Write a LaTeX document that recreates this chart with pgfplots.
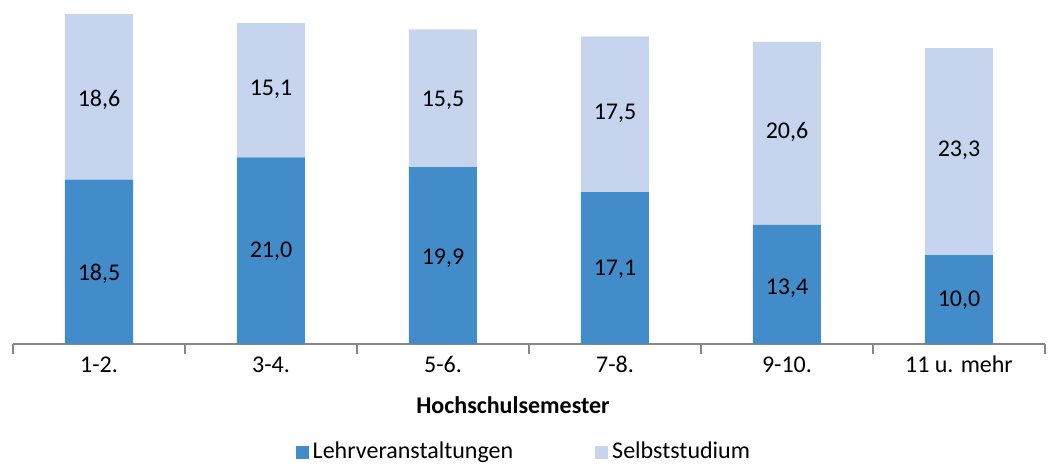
\documentclass[border=0pt]{standalone}
\usepackage{pgfplots}
\pgfplotsset{compat=1.18}
\usepackage{fontspec}
\setmainfont{Carlito}
\definecolor{lehr}{HTML}{438CCA}
\definecolor{selbst}{HTML}{C6D4EE}
\definecolor{axgray}{HTML}{878787}
\begin{document}
\begin{tikzpicture}[font=\fontsize{12}{14}\selectfont]
\pgfplotsset{
  base/.style={
    scale only axis, width=516pt, height=172pt,
    xmin=-0.5, xmax=5.5, ymin=0, ymax=38.7,
  }
}
% bars
\begin{axis}[base,
    ybar stacked, bar width=34pt,
    axis x line*=bottom, axis y line=none,
    x axis line style={axgray, line width=1pt},
    xtick={-0.5,0.5,1.5,2.5,3.5,4.5,5.5},
    xticklabels={1-2.,3-4.,5-6.,7-8.,9-10.,11 u. mehr,},
    x tick label as interval,
    tick align=outside, major tick length=5pt,
    xtick style={axgray, line width=1pt},
    xticklabel style={text height=7.7pt, text depth=2pt, inner sep=1.5pt},
    xlabel={\bfseries Hochschulsemester},
    xlabel style={at={(axis description cs:0.4845,-0.178)}, anchor=center},
    legend style={draw=none, legend columns=2, at={(0.496,-0.314)}, anchor=center,
      /tikz/every even column/.append style={column sep=39pt}, inner sep=0pt},
    legend image code/.code={\fill[#1] (0pt,-3.25pt) rectangle (6.5pt,3.25pt);},
  ]
  \addplot[fill=lehr, draw=none] coordinates {(0,18.5) (1,21.0) (2,19.9) (3,17.1) (4,13.4) (5,10.0)};
  \addlegendentry{Lehrveranstaltungen}
  \addplot[fill=selbst, draw=none] coordinates {(0,18.6) (1,15.1) (2,15.5) (3,17.5) (4,20.6) (5,23.3)};
  \addlegendentry{Selbststudium}
\end{axis}
% value labels inside the segments
\begin{axis}[base, hide axis,
    nodes near coords, point meta=explicit,
    every node near coord/.append style={anchor=center, text=black,
      /pgf/number format/.cd, fixed, fixed zerofill, precision=1, use comma, assume math mode=true},
  ]
  \addplot[only marks, mark=none] coordinates {
    (0,7.9) [18.5] (1,10.4) [21.0] (2,9.7) [19.9] (3,8.4) [17.1] (4,6.3) [13.4] (5,4.9) [10.0]
    (0,27.5) [18.6] (1,28.6) [15.1] (2,27.4) [15.5] (3,25.9) [17.5] (4,23.9) [20.6] (5,21.8) [23.3]
  };
\end{axis}
\pgfresetboundingbox
\path[use as bounding box] (-6.5pt,-59.5pt) rectangle (518.5pt,172pt);
\end{tikzpicture}
\end{document}
